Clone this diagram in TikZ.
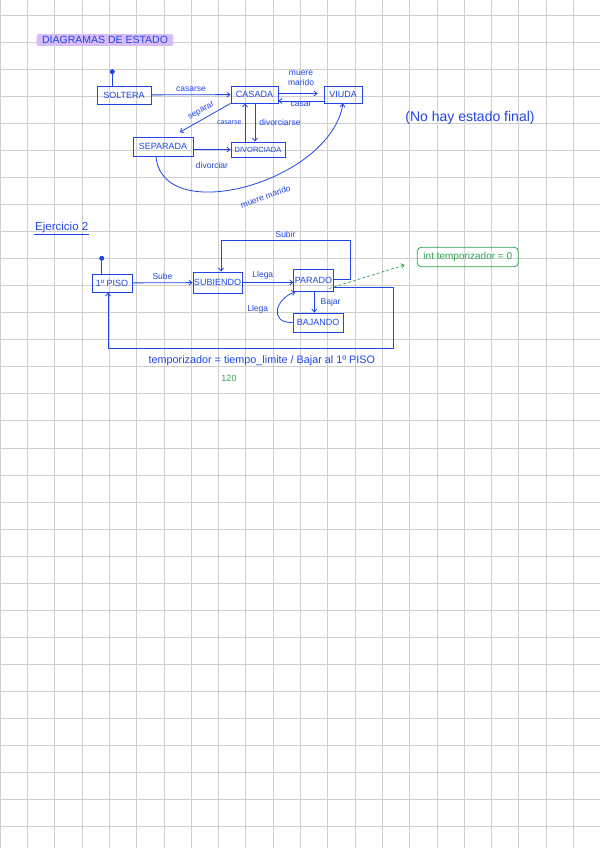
\documentclass[tikz,border=0pt]{standalone}
\usepackage{fontspec}
\setmainfont{Liberation Sans}
\usepackage{tikz}
\usetikzlibrary{
    arrows.meta,
    calc,
    positioning
}
\definecolor{tinta}{HTML}{1F45E8}
\definecolor{tintaverde}{HTML}{2EA54F}
\definecolor{resalte}{HTML}{D8BCF7}
\definecolor{cuadricula}{HTML}{CFCFCF}
\tikzstyle{estado}=[
    rectangle,
    draw=tinta,
    line width=0.9pt,
    text=tinta,
    inner sep=1pt,
    font=\fontsize{9}{10}\selectfont
]
\tikzstyle{inicio}=[circle,fill=tinta,inner sep=0pt,minimum size=5pt]
\tikzstyle{linea}=[line width=0.8pt,draw=tinta]
\tikzstyle{flecha}=[line width=0.8pt,draw=tinta,-{Straight Barb[length=3pt,width=5pt]}]
\tikzstyle{flechaverde}=[line width=0.7pt,draw=tintaverde,dash pattern=on 3pt off 2pt,-{Straight Barb[length=3pt,width=5pt]}]
\tikzstyle{etiqueta}=[text=tinta,inner sep=1pt,font=\fontsize{8.5}{10}\selectfont]
\tikzstyle{nota}=[
    rectangle,
    rounded corners=4pt,
    draw=tintaverde,
    line width=0.8pt,
    text=tintaverde,
    minimum width=101pt,
    minimum height=19.5pt,
    inner sep=1pt,
    font=\fontsize{10}{11}\selectfont
]

\begin{document}
\begin{tikzpicture}[x=1pt,y=-1pt]
\useasboundingbox (0,0) rectangle (600,848);
\fill[white] (0,0) rectangle (600,848);
% cuadricula de la hoja
\foreach \i in {0,...,21}
    \draw[cuadricula,line width=0.6pt] (27.3*\i,0) -- (27.3*\i,848);
\foreach \j in {0,...,30}
    \draw[cuadricula,line width=0.6pt] (0,15+27.05*\j) -- (600,15+27.05*\j);

\node[fill=resalte,rounded corners=1.5pt,text=tinta,minimum width=136.6pt,minimum height=11.7pt,inner sep=0pt,font=\fontsize{10.5}{11}\selectfont] (titulo) at (105,40) {DIAGRAMAS DE ESTADO};

% diagrama 1
\node[estado,minimum width=54pt,minimum height=18pt] (soltera) at (124,95) {SOLTERA};
\node[estado,minimum width=47pt,minimum height=17pt] (casada) at (254.5,94.5) {CASADA};
\node[estado,minimum width=38pt,minimum height=17pt] (viuda) at (343,94.5) {VIUDA};
\node[estado,minimum width=60pt,minimum height=19pt] (separada) at (163,146.5) {SEPARADA};
\node[estado,minimum width=54pt,minimum height=15pt,font=\fontsize{7.5}{9}\selectfont] (divorciada) at (258,149.5) {DIVORCIADA};
\node[inicio] (ini1) at (112.3,71.7) {};
\node[etiqueta,font=\fontsize{14}{15}\selectfont] (nofinal) at (470,118) {(No hay estado final)};

\draw[linea] (ini1) -- (ini1 |- soltera.north);
\draw[flecha] (soltera) -- node[etiqueta,above=2pt]{casarse} (casada);
\draw[flecha,shorten >=6pt] ([yshift=1pt]casada.east) -- node[etiqueta,above=7pt,align=center]{muere\\marido} ([yshift=1pt]viuda.west);
\draw[flecha] ([yshift=-6.5pt]viuda.west) -- node[etiqueta,below=0pt]{casar} ([yshift=-6.5pt]casada.east);
\draw[flecha] (casada.south west) -- node[etiqueta,sloped,above=3pt]{separar} ([xshift=-13.7pt,yshift=4.3pt]separada.north east);
\draw[flecha] ([xshift=0.5pt]casada.south) -- node[etiqueta,right=3pt]{divorciarse} ([xshift=0.5pt]casada.south |- divorciada.north);
\draw[flecha] ([xshift=-9.5pt]casada.south |- divorciada.north) -- node[etiqueta,left=2pt,font=\fontsize{7}{8}\selectfont]{casarse} ([xshift=-9.5pt]casada.south);
\draw[flecha] (separada.east |- divorciada.west) -- node[etiqueta,below=11pt]{divorciar} (divorciada.west);
\draw[flecha] ([xshift=-7pt]separada.south) .. controls (162,228) and (330,182) .. node[etiqueta,sloped,pos=0.55,below=11pt]{muere marido} (viuda.south);

% ejercicio 2
\node[etiqueta,font=\fontsize{11.5}{12}\selectfont,anchor=south west] (ejercicio) at (34,234) {Ejercicio 2};
\draw[linea] (ejercicio.south west) -- (ejercicio.south east);

\node[estado,minimum width=40pt,minimum height=18pt] (piso) at (112,283) {1º PISO};
\node[estado,minimum width=49pt,minimum height=21pt] (subiendo) at (217.5,282.5) {SUBIENDO};
\node[estado,minimum width=39pt,minimum height=22pt] (parado) at (313.5,280.5) {PARADO};
\node[estado,minimum width=50pt,minimum height=19pt] (bajando) at (318,322.5) {BAJANDO};
\node[inicio] (ini2) at (101.7,258.3) {};
\node[nota] (nota) at (467.8,257) {int temporizador = 0};
\coordinate (esqsubir) at (350,240);
\coordinate (esqvuelta) at (393,348);

\draw[linea] (ini2) -- (ini2 |- piso.north);
\draw[flecha] (piso) -- node[etiqueta,above=2pt]{Sube} (subiendo);
\draw[flecha] (subiendo.east) -- node[etiqueta,above=2pt,pos=0.4]{Llega} (subiendo.east -| parado.west);
\draw[flecha] ([yshift=1.5pt]parado.east) -| (esqsubir) -| node[etiqueta,pos=0.25,above=1pt]{Subir} ([xshift=3.5pt]subiendo.north);
\draw[flecha] ([xshift=0.8pt]parado.south) -- node[etiqueta,right=5pt]{Bajar} ([xshift=0.8pt]parado.south |- bajando.north);
\draw[flecha] (bajando.west) .. controls (268,323) and (276,298) .. node[etiqueta,left=8pt]{Llega} ([xshift=2pt]parado.south west);
\draw[flecha] ([yshift=-7pt]parado.east) -| (esqvuelta) -| node[etiqueta,pos=0.23,below=6pt,font=\fontsize{10.8}{12}\selectfont]{temporizador = tiempo\_limite / Bajar al 1º PISO} ([xshift=-4pt]piso.south);
\node[etiqueta,text=tintaverde,font=\fontsize{9}{10}\selectfont] (cientoveinte) at (229,378) {120};
\draw[flechaverde] ([xshift=-4.7pt,yshift=3.4pt]parado.south east) -- ([xshift=-12.3pt,yshift=-8pt]nota.west);
\end{tikzpicture}
\end{document}
